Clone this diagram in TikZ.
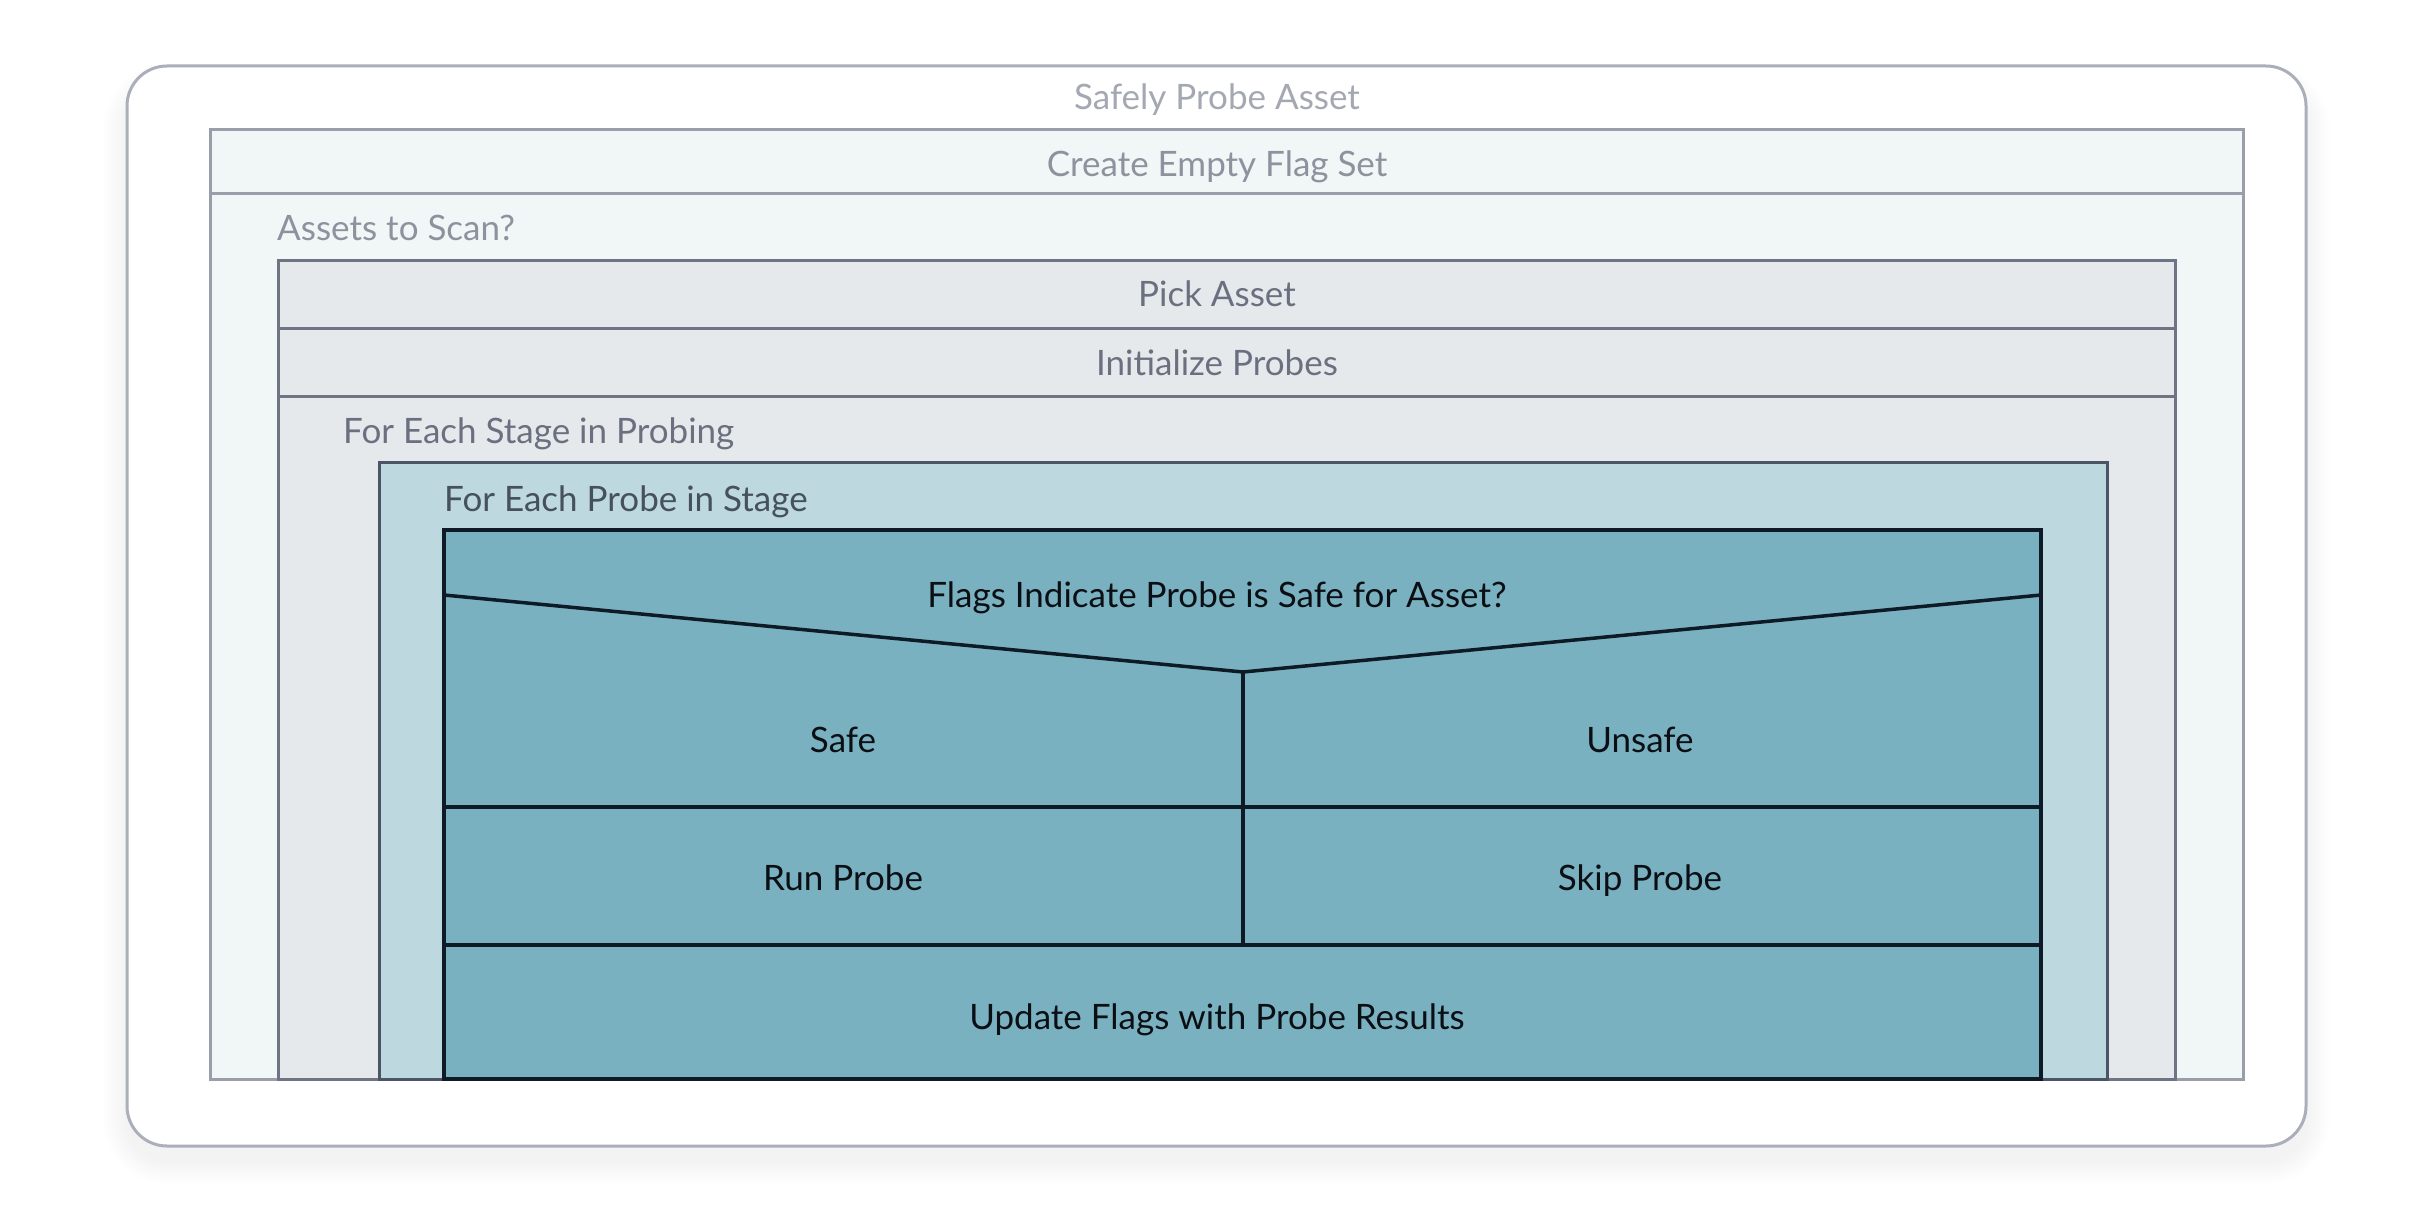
\documentclass[tikz,border=0pt]{standalone}
\usepackage{fontspec}
\setmainfont{Lato}
\definecolor{outerbd}{HTML}{ABAFBA}
\definecolor{titletx}{HTML}{A4A8B2}
\definecolor{lafill}{HTML}{F1F6F7}
\definecolor{labd}{HTML}{9A9EAB}
\definecolor{latx}{HTML}{8E929E}
\definecolor{lbfill}{HTML}{E5E9EC}
\definecolor{lbbd}{HTML}{6F7485}
\definecolor{lbtx}{HTML}{6B7080}
\definecolor{lcfill}{HTML}{BDD9DF}
\definecolor{lcbd}{HTML}{4C5566}
\definecolor{lctx}{HTML}{46505F}
\definecolor{ldfill}{HTML}{79B1C0}
\definecolor{ldbd}{HTML}{0E1A26}
\definecolor{ldtx}{HTML}{0B0F14}
\tikzset{
  lbl/.style={font=\fontsize{35}{40}\selectfont, inner sep=0pt, anchor=base},
  lbll/.style={lbl, anchor=base west},
}
\begin{document}
\begin{tikzpicture}[x=1pt,y=-1pt]
\useasboundingbox[fill=white] (0,0) rectangle (2424,1220);
% soft shadow
\foreach \i in {1,...,12}{
  \fill[black!60!blue, opacity=0.005, rounded corners=40+\i*2]
    (127-\i*2,66+14-\i*2+8) rectangle (2306+\i*2,1146+14+\i*2);
}
% outer container
\draw[outerbd, line width=3, fill=white, rounded corners=40]
  (127,66) rectangle (2306,1146);
\node[lbl, text=titletx] (title) at (1217,110) {Safely Probe Asset};
% level 1
\draw[labd, line width=3, fill=lafill] (210,130) rectangle (2243,1079);
\draw[labd, line width=3] (210,193) -- (2243,193);
\node[lbl, text=latx] (create) at (1217,176) {Create Empty Flag Set};
\node[lbll, text=latx] (assets) at (277,240) {Assets to Scan?};
% level 2
\draw[lbbd, line width=3, fill=lbfill] (278,260) rectangle (2175,1079);
\draw[lbbd, line width=3] (278,328) -- (2175,328);
\draw[lbbd, line width=3] (278,396) -- (2175,396);
\node[lbl, text=lbtx] (pick) at (1217,306) {Pick Asset};
\node[lbl, text=lbtx] (init) at (1217,375) {Initialize Probes};
\node[lbll, text=lbtx] (stage) at (343,443) {For Each Stage in Probing};
% level 3
\draw[lcbd, line width=3, fill=lcfill] (379,462) rectangle (2107,1079);
\node[lbll, text=lctx] (probe) at (444,511) {For Each Probe in Stage};
% level 4
\draw[ldbd, line width=3.5, fill=ldfill] (444,530) rectangle (2041,1079);
\draw[ldbd, line width=3.5, line join=miter] (444,595) -- (1243,672) -- (2041,595);
\draw[ldbd, line width=3.5] (1243,672) -- (1243,945);
\draw[ldbd, line width=3.5] (444,807) -- (2041,807);
\draw[ldbd, line width=3.5] (444,945) -- (2041,945);
\node[lbl, text=ldtx] (cond) at (1217,607) {Flags Indicate Probe is Safe for Asset?};
\node[lbl, text=ldtx] (safe) at (843,752) {Safe};
\node[lbl, text=ldtx] (unsafe) at (1640,752) {Unsafe};
\node[lbl, text=ldtx] (run) at (843,890) {Run Probe};
\node[lbl, text=ldtx] (skip) at (1640,890) {Skip Probe};
\node[lbl, text=ldtx] (update) at (1217,1029) {Update Flags with Probe Results};
\end{tikzpicture}
\end{document}
